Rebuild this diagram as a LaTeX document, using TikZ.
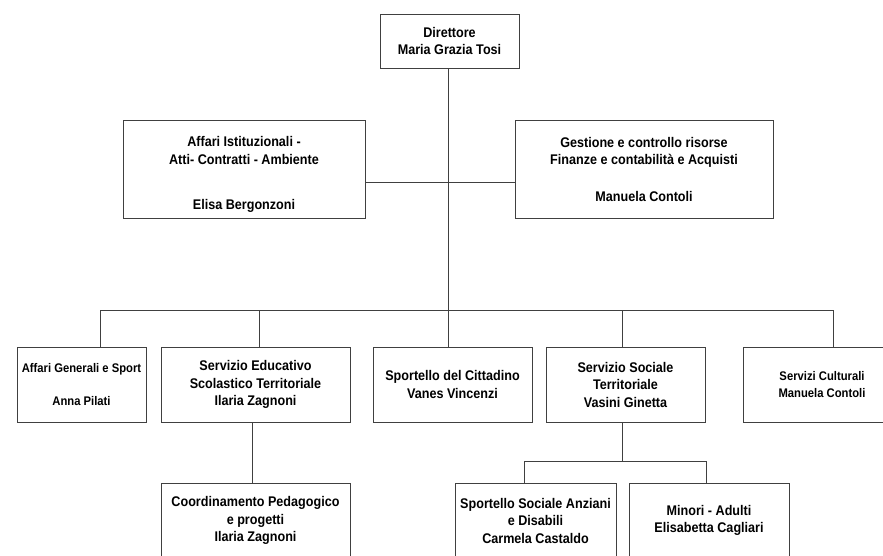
\documentclass[tikz,border=0pt]{standalone}
\usepackage{fontspec}
\setmainfont{Liberation Sans}[FakeStretch=0.9]
\usepackage{tikz}

\begin{document}
\begin{tikzpicture}[x=1pt, y=-1pt,
    box/.style={draw=black!75, line width=0.8pt, rectangle, align=center,
      inner sep=0pt, font=\fontsize{14}{17.5}\selectfont\bfseries},
    smallbox/.style={box, font=\fontsize{12.5}{17}\selectfont\bfseries},
    conn/.style={draw=black!75, line width=0.8pt}]

  \useasboundingbox (0,0) rectangle (883,555);
  \clip (0,0) rectangle (883,555);

  %% top
  \node[box, minimum width=139pt, minimum height=54pt] (dir) at (449.5,41)
    {Direttore\\Maria Grazia Tosi};

  \node[box, minimum width=242pt, minimum height=98pt] (ist) at (244,169)
    {\rule{0pt}{21pt}Affari Istituzionali -\\Atti- Contratti - Ambiente\\[28pt]Elisa Bergonzoni};
  \node[box, minimum width=258pt, minimum height=98pt] (ges) at (644,169)
    {Gestione e controllo risorse\\Finanze e contabilit\`a e Acquisti\\[19pt]Manuela Contoli};

  %% second row
  \node[smallbox, minimum width=129pt, minimum height=75pt] (agen) at (81.5,384.5)
    {Affari Generali e Sport\\[16pt]Anna Pilati};
  \node[box, minimum width=189pt, minimum height=75pt] (edu) at (255.5,384.5)
    {Servizio Educativo\\Scolastico Territoriale\\Ilaria Zagnoni};
  \node[box, minimum width=159pt, minimum height=75pt] (sport) at (452.5,384.5)
    {Sportello del Cittadino\\Vanes Vincenzi};
  \node[box, minimum width=159pt, minimum height=75pt] (soc) at (625.5,384.5)
    {Servizio Sociale\\Territoriale\\Vasini Ginetta};
  \node[smallbox, minimum width=158pt, minimum height=75pt] (cult) at (822,384.5)
    {Servizi Culturali\\Manuela Contoli};

  %% third row
  \node[box, minimum width=189pt, minimum height=75pt] (coord) at (255.5,520.5)
    {Coordinamento Pedagogico\\e progetti\\Ilaria Zagnoni};
  \node[box, minimum width=161pt, minimum height=75pt] (ssa) at (535.5,520.5)
    {Sportello Sociale Anziani\\e Disabili\\Carmela Castaldo};
  \node[box, minimum width=160pt, minimum height=75pt] (min) at (709,520.5)
    {Minori - Adulti\\Elisabetta Cagliari};

  %% bus points
  \coordinate (bus) at (448,310);
  \coordinate (bL) at (100,310);
  \coordinate (bE) at (259,310);
  \coordinate (bS) at (622,310);
  \coordinate (bR) at (833,310);
  \coordinate (sbus) at (622,461);
  \coordinate (sL) at (524,461);
  \coordinate (sR) at (706,461);

  \draw[conn] (dir.south -| bus) -- (bus);
  \draw[conn] ([yshift=-13pt]ist.east) -- ([yshift=-13pt]ist.east -| bus); %% ist
  \draw[conn] ([yshift=-13pt]ges.west) -- ([yshift=-13pt]ges.west -| bus); %% ges
  \draw[conn] (bL) -- (bR);
  \foreach \c/\n in {bL/agen, bE/edu, bus/sport, bS/soc, bR/cult}
    \draw[conn] (\c) -- (\c |- \n.north);

  \draw[conn] ([xshift=-3.5pt]edu.south) -- ([xshift=-3.5pt]coord.north); %% edu->coord
  \draw[conn] (sbus |- soc.south) -- (sbus);
  \draw[conn] (sL) -- (sR);
  \draw[conn] (sL) -- (sL |- ssa.north);
  \draw[conn] (sR) -- (sR |- min.north);
\end{tikzpicture}
\end{document}
